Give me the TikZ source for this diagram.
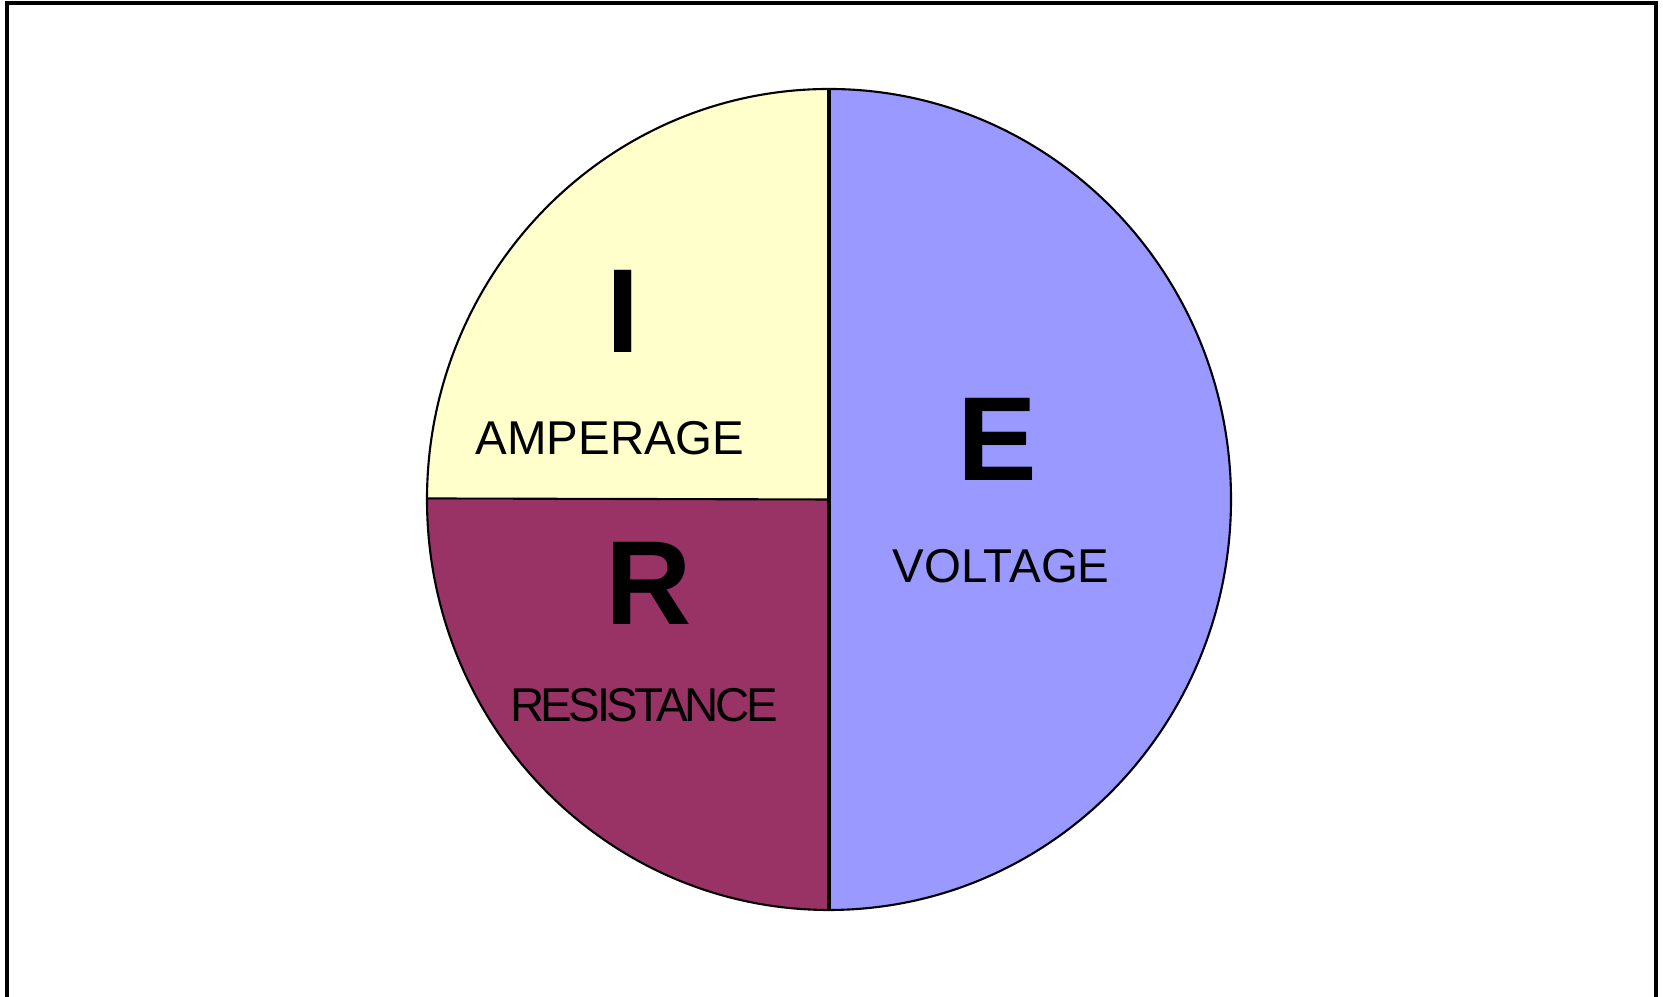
\documentclass[tikz,border=0pt]{standalone}
\usepackage{fontspec}
\setmainfont{Liberation Sans}
\usepackage{tikz}

\definecolor{ampyellow}{HTML}{FFFFCC}
\definecolor{resred}{HTML}{993366}
\definecolor{voltblue}{HTML}{9999FF}

\begin{document}
\begin{tikzpicture}[
    letter/.style={font=\fontsize{34}{34}\selectfont\bfseries},
    word/.style={font=\fontsize{13.5}{14}\selectfont}]
    \useasboundingbox (0,0) rectangle (16.63,9.97);

    % Outer frame (open at the bottom)
    \draw[line width=1pt] (0.07,0) -- (0.07,9.94) -- (16.56,9.94) -- (16.56,0);

    % Pie: E on the right half, I and R on the left quarters
    \coordinate (c) at (8.29,4.975);
    \fill[voltblue] (c) -- ++(0,4.105) arc[start angle=90, end angle=-90, x radius=4.02, y radius=4.105] -- cycle;
    \fill[ampyellow] (c) -- ++(0,4.105) arc[start angle=90, end angle=180, x radius=4.02, y radius=4.105] -- cycle;
    \fill[resred] (c) -- ++(-4.02,0) arc[start angle=180, end angle=270, x radius=4.02, y radius=4.105] -- cycle;

    \coordinate (top) at (8.29,9.08);
    \coordinate (bot) at (8.29,0.87);
    \coordinate (lft) at (4.27,4.985);

    \draw[line width=0.6pt] (c) ellipse[x radius=4.02, y radius=4.105];
    \draw[line width=0.9pt] (top) -- (bot);
    \draw[line width=0.6pt] (lft) -- (c);

    % Labels
    \node[letter] (curI) at (6.23,6.86) {I};
    \node[word] (curT) at (6.10,5.59) {AMPERAGE};

    \node[letter] (voltE) at (9.97,5.58) {E};
    \node[word] (voltT) at (10.01,4.31) {VOLTAGE};

    \node[letter] (resR) at (6.49,4.14) {R};
    \node[word] (resT) at (6.44,2.92) {\addfontfeature{LetterSpace=-7.5}RESISTANCE};
\end{tikzpicture}
\end{document}
